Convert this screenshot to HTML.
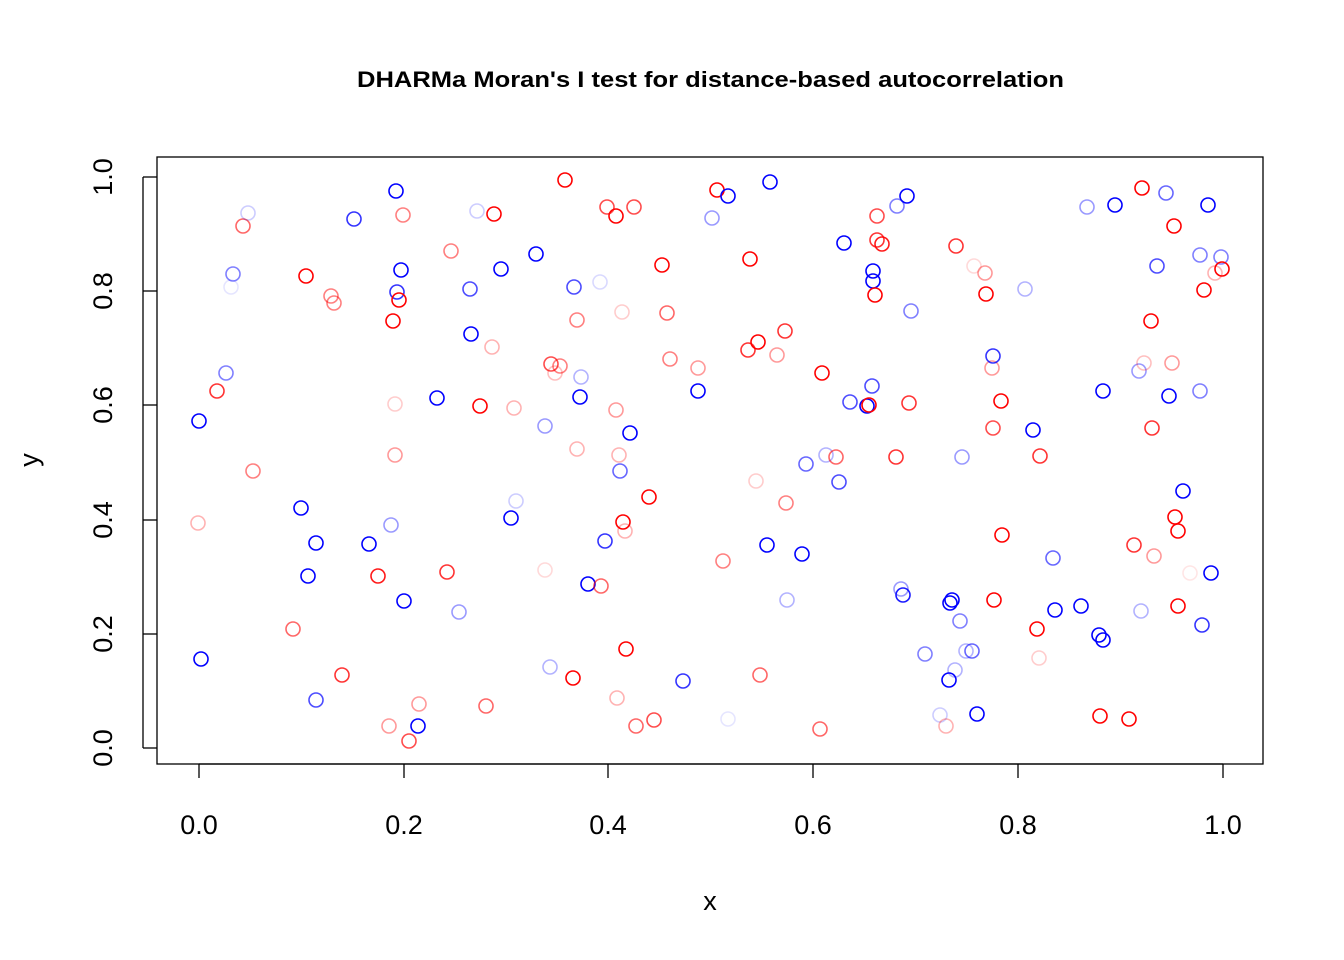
<!DOCTYPE html>
<html><head><style>
body{margin:0;background:#fff}
svg{display:block}
circle{fill:none;stroke-width:1.6}
.r{stroke:#f00}.b{stroke:#00f}
text{font-family:"Liberation Sans",Arial,sans-serif;fill:#000}
</style></head><body>
<svg width="1344" height="960" viewBox="0 0 1344 960">
<rect width="1344" height="960" fill="#fff"/>
<text x="357" y="87" font-size="22" font-weight="bold" textLength="707" lengthAdjust="spacingAndGlyphs">DHARMa Moran's I test for distance-based autocorrelation</text>
<rect x="157" y="157" width="1106" height="607" fill="none" stroke="#000" stroke-width="1.3"/>
<g stroke="#000" stroke-width="1.3">
<line x1="199" y1="764" x2="1223" y2="764"/>
<line x1="199" y1="764" x2="199" y2="778"/><line x1="404" y1="764" x2="404" y2="778"/><line x1="608" y1="764" x2="608" y2="778"/><line x1="813" y1="764" x2="813" y2="778"/><line x1="1018" y1="764" x2="1018" y2="778"/><line x1="1223" y1="764" x2="1223" y2="778"/>
<line x1="143" y1="177" x2="143" y2="748"/>
<line x1="143" y1="748" x2="157" y2="748"/><line x1="143" y1="634" x2="157" y2="634"/><line x1="143" y1="520" x2="157" y2="520"/><line x1="143" y1="405" x2="157" y2="405"/><line x1="143" y1="291" x2="157" y2="291"/><line x1="143" y1="177" x2="157" y2="177"/>
</g>
<g font-size="27" text-anchor="middle">
<text x="199" y="834">0.0</text><text x="404" y="834">0.2</text><text x="608" y="834">0.4</text><text x="813" y="834">0.6</text><text x="1018" y="834">0.8</text><text x="1223" y="834">1.0</text>
<text transform="translate(112,748) rotate(-90)">0.0</text>
<text transform="translate(112,634) rotate(-90)">0.2</text>
<text transform="translate(112,520) rotate(-90)">0.4</text>
<text transform="translate(112,405) rotate(-90)">0.6</text>
<text transform="translate(112,291) rotate(-90)">0.8</text>
<text transform="translate(112,177) rotate(-90)">1.0</text>
<text x="710" y="910">x</text>
<text transform="translate(38,460) rotate(-90)">y</text>
</g>
<g>
<circle r="7" cx="199" cy="421" class="b"/>
<circle r="7" cx="201" cy="659" class="b"/>
<circle r="7" cx="198" cy="523" class="r" opacity="0.3"/>
<circle r="7" cx="217" cy="391" class="r" opacity="0.8"/>
<circle r="7" cx="226" cy="373" class="b" opacity="0.5"/>
<circle r="7" cx="233" cy="274" class="b" opacity="0.5"/>
<circle r="7" cx="231" cy="287" class="b" opacity="0.1"/>
<circle r="7" cx="243" cy="226" class="r" opacity="0.6"/>
<circle r="7" cx="248" cy="213" class="b" opacity="0.2"/>
<circle r="7" cx="253" cy="471" class="r" opacity="0.5"/>
<circle r="7" cx="301" cy="508" class="b"/>
<circle r="7" cx="308" cy="576" class="b"/>
<circle r="7" cx="316" cy="543" class="b"/>
<circle r="7" cx="316" cy="700" class="b" opacity="0.7"/>
<circle r="7" cx="306" cy="276" class="r"/>
<circle r="7" cx="293" cy="629" class="r" opacity="0.6"/>
<circle r="7" cx="331" cy="296" class="r" opacity="0.5"/>
<circle r="7" cx="334" cy="303" class="r" opacity="0.5"/>
<circle r="7" cx="342" cy="675" class="r" opacity="0.8"/>
<circle r="7" cx="354" cy="219" class="b" opacity="0.8"/>
<circle r="7" cx="369" cy="544" class="b"/>
<circle r="7" cx="378" cy="576" class="r" opacity="0.9"/>
<circle r="7" cx="389" cy="726" class="r" opacity="0.4"/>
<circle r="7" cx="391" cy="525" class="b" opacity="0.4"/>
<circle r="7" cx="393" cy="321" class="r"/>
<circle r="7" cx="396" cy="191" class="b"/>
<circle r="7" cx="397" cy="292" class="b" opacity="0.8"/>
<circle r="7" cx="399" cy="300" class="r"/>
<circle r="7" cx="401" cy="270" class="b"/>
<circle r="7" cx="404" cy="601" class="b"/>
<circle r="7" cx="395" cy="404" class="r" opacity="0.2"/>
<circle r="7" cx="395" cy="455" class="r" opacity="0.4"/>
<circle r="7" cx="403" cy="215" class="r" opacity="0.5"/>
<circle r="7" cx="409" cy="741" class="r" opacity="0.7"/>
<circle r="7" cx="418" cy="726" class="b"/>
<circle r="7" cx="419" cy="704" class="r" opacity="0.4"/>
<circle r="7" cx="437" cy="398" class="b"/>
<circle r="7" cx="447" cy="572" class="r" opacity="0.8"/>
<circle r="7" cx="451" cy="251" class="r" opacity="0.5"/>
<circle r="7" cx="459" cy="612" class="b" opacity="0.4"/>
<circle r="7" cx="470" cy="289" class="b" opacity="0.7"/>
<circle r="7" cx="471" cy="334" class="b"/>
<circle r="7" cx="477" cy="211" class="b" opacity="0.2"/>
<circle r="7" cx="480" cy="406" class="r"/>
<circle r="7" cx="486" cy="706" class="r" opacity="0.6"/>
<circle r="7" cx="492" cy="347" class="r" opacity="0.3"/>
<circle r="7" cx="494" cy="214" class="r"/>
<circle r="7" cx="501" cy="269" class="b"/>
<circle r="7" cx="511" cy="518" class="b"/>
<circle r="7" cx="516" cy="501" class="b" opacity="0.2"/>
<circle r="7" cx="514" cy="408" class="r" opacity="0.3"/>
<circle r="7" cx="536" cy="254" class="b"/>
<circle r="7" cx="545" cy="426" class="b" opacity="0.4"/>
<circle r="7" cx="545" cy="570" class="r" opacity="0.15"/>
<circle r="7" cx="550" cy="667" class="b" opacity="0.3"/>
<circle r="7" cx="551" cy="364" class="r" opacity="0.7"/>
<circle r="7" cx="555" cy="373" class="r" opacity="0.25"/>
<circle r="7" cx="560" cy="366" class="r" opacity="0.5"/>
<circle r="7" cx="565" cy="180" class="r"/>
<circle r="7" cx="574" cy="287" class="b" opacity="0.7"/>
<circle r="7" cx="573" cy="678" class="r"/>
<circle r="7" cx="577" cy="320" class="r" opacity="0.5"/>
<circle r="7" cx="577" cy="449" class="r" opacity="0.3"/>
<circle r="7" cx="581" cy="377" class="b" opacity="0.3"/>
<circle r="7" cx="580" cy="397" class="b"/>
<circle r="7" cx="588" cy="584" class="b"/>
<circle r="7" cx="600" cy="282" class="b" opacity="0.15"/>
<circle r="7" cx="601" cy="586" class="r" opacity="0.6"/>
<circle r="7" cx="605" cy="541" class="b" opacity="0.8"/>
<circle r="7" cx="607" cy="207" class="r" opacity="0.7"/>
<circle r="7" cx="616" cy="410" class="r" opacity="0.4"/>
<circle r="7" cx="616" cy="216" class="r"/>
<circle r="7" cx="617" cy="698" class="r" opacity="0.3"/>
<circle r="7" cx="619" cy="455" class="r" opacity="0.3"/>
<circle r="7" cx="620" cy="471" class="b" opacity="0.6"/>
<circle r="7" cx="622" cy="312" class="r" opacity="0.2"/>
<circle r="7" cx="623" cy="522" class="r"/>
<circle r="7" cx="625" cy="531" class="r" opacity="0.3"/>
<circle r="7" cx="626" cy="649" class="r"/>
<circle r="7" cx="630" cy="433" class="b"/>
<circle r="7" cx="634" cy="207" class="r" opacity="0.7"/>
<circle r="7" cx="636" cy="726" class="r" opacity="0.6"/>
<circle r="7" cx="649" cy="497" class="r"/>
<circle r="7" cx="654" cy="720" class="r" opacity="0.7"/>
<circle r="7" cx="662" cy="265" class="r"/>
<circle r="7" cx="667" cy="313" class="r" opacity="0.6"/>
<circle r="7" cx="670" cy="359" class="r" opacity="0.5"/>
<circle r="7" cx="683" cy="681" class="b" opacity="0.8"/>
<circle r="7" cx="698" cy="368" class="r" opacity="0.4"/>
<circle r="7" cx="698" cy="391" class="b"/>
<circle r="7" cx="712" cy="218" class="b" opacity="0.4"/>
<circle r="7" cx="717" cy="190" class="r"/>
<circle r="7" cx="723" cy="561" class="r" opacity="0.5"/>
<circle r="7" cx="728" cy="719" class="b" opacity="0.1"/>
<circle r="7" cx="728" cy="196" class="b"/>
<circle r="7" cx="748" cy="350" class="r" opacity="0.8"/>
<circle r="7" cx="750" cy="259" class="r"/>
<circle r="7" cx="756" cy="481" class="r" opacity="0.2"/>
<circle r="7" cx="758" cy="342" class="r"/>
<circle r="7" cx="760" cy="675" class="r" opacity="0.6"/>
<circle r="7" cx="767" cy="545" class="b"/>
<circle r="7" cx="770" cy="182" class="b"/>
<circle r="7" cx="777" cy="355" class="r" opacity="0.4"/>
<circle r="7" cx="785" cy="331" class="r" opacity="0.8"/>
<circle r="7" cx="786" cy="503" class="r" opacity="0.5"/>
<circle r="7" cx="787" cy="600" class="b" opacity="0.3"/>
<circle r="7" cx="802" cy="554" class="b"/>
<circle r="7" cx="806" cy="464" class="b" opacity="0.6"/>
<circle r="7" cx="820" cy="729" class="r" opacity="0.6"/>
<circle r="7" cx="822" cy="373" class="r"/>
<circle r="7" cx="826" cy="455" class="b" opacity="0.3"/>
<circle r="7" cx="836" cy="457" class="r" opacity="0.6"/>
<circle r="7" cx="839" cy="482" class="b" opacity="0.7"/>
<circle r="7" cx="844" cy="243" class="b"/>
<circle r="7" cx="850" cy="402" class="b" opacity="0.7"/>
<circle r="7" cx="867" cy="406" class="b"/>
<circle r="7" cx="869" cy="405" class="r"/>
<circle r="7" cx="872" cy="386" class="b" opacity="0.7"/>
<circle r="7" cx="873" cy="271" class="b"/>
<circle r="7" cx="873" cy="281" class="b"/>
<circle r="7" cx="875" cy="295" class="r"/>
<circle r="7" cx="877" cy="216" class="r" opacity="0.7"/>
<circle r="7" cx="877" cy="240" class="r" opacity="0.8"/>
<circle r="7" cx="882" cy="244" class="r" opacity="0.9"/>
<circle r="7" cx="896" cy="457" class="r" opacity="0.8"/>
<circle r="7" cx="897" cy="206" class="b" opacity="0.5"/>
<circle r="7" cx="901" cy="589" class="b" opacity="0.4"/>
<circle r="7" cx="903" cy="595" class="b" opacity="0.9"/>
<circle r="7" cx="907" cy="196" class="b"/>
<circle r="7" cx="909" cy="403" class="r" opacity="0.8"/>
<circle r="7" cx="911" cy="311" class="b" opacity="0.5"/>
<circle r="7" cx="925" cy="654" class="b" opacity="0.5"/>
<circle r="7" cx="940" cy="715" class="b" opacity="0.2"/>
<circle r="7" cx="946" cy="726" class="r" opacity="0.3"/>
<circle r="7" cx="949" cy="680" class="b"/>
<circle r="7" cx="950" cy="603" class="b"/>
<circle r="7" cx="952" cy="600" class="b"/>
<circle r="7" cx="956" cy="246" class="r" opacity="0.8"/>
<circle r="7" cx="955" cy="670" class="b" opacity="0.3"/>
<circle r="7" cx="960" cy="621" class="b" opacity="0.5"/>
<circle r="7" cx="962" cy="457" class="b" opacity="0.4"/>
<circle r="7" cx="966" cy="651" class="b" opacity="0.3"/>
<circle r="7" cx="972" cy="651" class="b" opacity="0.6"/>
<circle r="7" cx="974" cy="266" class="r" opacity="0.15"/>
<circle r="7" cx="977" cy="714" class="b"/>
<circle r="7" cx="985" cy="273" class="r" opacity="0.4"/>
<circle r="7" cx="986" cy="294" class="r"/>
<circle r="7" cx="992" cy="368" class="r" opacity="0.4"/>
<circle r="7" cx="993" cy="428" class="r" opacity="0.7"/>
<circle r="7" cx="994" cy="600" class="r"/>
<circle r="7" cx="993" cy="356" class="b" opacity="0.8"/>
<circle r="7" cx="1001" cy="401" class="r"/>
<circle r="7" cx="1002" cy="535" class="r"/>
<circle r="7" cx="1025" cy="289" class="b" opacity="0.3"/>
<circle r="7" cx="1033" cy="430" class="b"/>
<circle r="7" cx="1037" cy="629" class="r"/>
<circle r="7" cx="1039" cy="658" class="r" opacity="0.2"/>
<circle r="7" cx="1040" cy="456" class="r" opacity="0.8"/>
<circle r="7" cx="1053" cy="558" class="b" opacity="0.6"/>
<circle r="7" cx="1055" cy="610" class="b"/>
<circle r="7" cx="1081" cy="606" class="b"/>
<circle r="7" cx="1087" cy="207" class="b" opacity="0.4"/>
<circle r="7" cx="1099" cy="635" class="b"/>
<circle r="7" cx="1100" cy="716" class="r"/>
<circle r="7" cx="1103" cy="391" class="b"/>
<circle r="7" cx="1103" cy="640" class="b"/>
<circle r="7" cx="1115" cy="205" class="b"/>
<circle r="7" cx="1129" cy="719" class="r"/>
<circle r="7" cx="1134" cy="545" class="r" opacity="0.8"/>
<circle r="7" cx="1139" cy="371" class="b" opacity="0.4"/>
<circle r="7" cx="1142" cy="188" class="r"/>
<circle r="7" cx="1144" cy="363" class="r" opacity="0.25"/>
<circle r="7" cx="1141" cy="611" class="b" opacity="0.3"/>
<circle r="7" cx="1151" cy="321" class="r"/>
<circle r="7" cx="1152" cy="428" class="r" opacity="0.8"/>
<circle r="7" cx="1154" cy="556" class="r" opacity="0.4"/>
<circle r="7" cx="1157" cy="266" class="b" opacity="0.7"/>
<circle r="7" cx="1166" cy="193" class="b" opacity="0.6"/>
<circle r="7" cx="1169" cy="396" class="b"/>
<circle r="7" cx="1172" cy="363" class="r" opacity="0.4"/>
<circle r="7" cx="1174" cy="226" class="r"/>
<circle r="7" cx="1175" cy="517" class="r"/>
<circle r="7" cx="1178" cy="531" class="r"/>
<circle r="7" cx="1178" cy="606" class="r"/>
<circle r="7" cx="1183" cy="491" class="b"/>
<circle r="7" cx="1190" cy="573" class="r" opacity="0.1"/>
<circle r="7" cx="1200" cy="255" class="b" opacity="0.5"/>
<circle r="7" cx="1200" cy="391" class="b" opacity="0.5"/>
<circle r="7" cx="1202" cy="625" class="b" opacity="0.8"/>
<circle r="7" cx="1204" cy="290" class="r"/>
<circle r="7" cx="1208" cy="205" class="b"/>
<circle r="7" cx="1211" cy="573" class="b"/>
<circle r="7" cx="1215" cy="273" class="r" opacity="0.3"/>
<circle r="7" cx="1221" cy="257" class="b" opacity="0.5"/>
<circle r="7" cx="1222" cy="269" class="r"/>
</g>
</svg>
</body></html>
